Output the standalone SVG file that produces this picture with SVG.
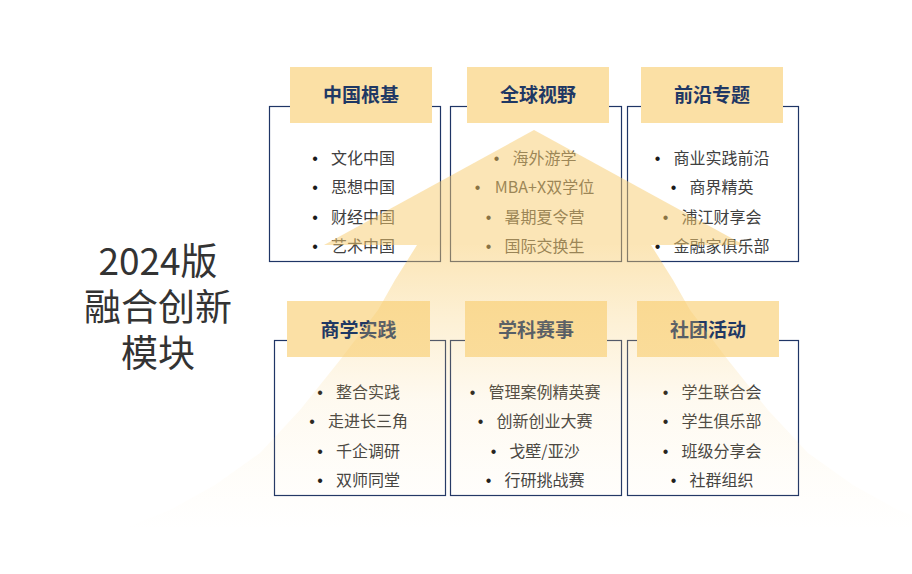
<svg xmlns="http://www.w3.org/2000/svg" width="912" height="574" viewBox="0 0 912 574">
<defs>
<style>
.box{fill:none;stroke:#1F3566;stroke-width:1.2}
.tb{fill:#FBE0A5}
.tt{font-family:"Noto Sans CJK SC","Noto Sans",sans-serif;font-size:19px;font-weight:bold;fill:#1F3864;text-anchor:middle}
.it{font-family:"Noto Sans CJK SC","Noto Sans",sans-serif;font-size:16px;fill:#404040;text-anchor:middle}
.bu{font-family:"Liberation Sans",sans-serif;font-size:16px;fill:#1a1a1a;text-anchor:middle}
.big{font-family:"Noto Sans CJK SC","Noto Sans",sans-serif;font-size:37px;fill:#333333;text-anchor:middle}
</style>
<linearGradient id="fade" gradientUnits="userSpaceOnUse" x1="0" y1="245" x2="0" y2="530">
<stop offset="0" stop-color="#F8CC6E" stop-opacity="0.5"/>
<stop offset="0.25" stop-color="#F8CC6E" stop-opacity="0.3"/>
<stop offset="0.55" stop-color="#F8CC6E" stop-opacity="0.1"/>
<stop offset="0.8" stop-color="#F8CC6E" stop-opacity="0.04"/>
<stop offset="1" stop-color="#F8CC6E" stop-opacity="0"/>
</linearGradient>
</defs>
<rect width="912" height="574" fill="#FFFFFF"/>
<g id="title">
<text class="big" x="158" y="274.5">2024版</text>
<text class="big" x="158" y="321">融合创新</text>
<text class="big" x="158" y="367">模块</text>
</g>
<g id="node-zhongguogenji">
<rect class="box" x="269.5" y="106.5" width="171" height="155"/>
<rect class="tb" x="290" y="67" width="142" height="56"/>
<text class="tt" x="361" y="102">中国根基</text>
<text class="bu" x="315" y="163.5">•</text><text class="it" x="363" y="163.5">文化中国</text>
<text class="bu" x="315" y="193">•</text><text class="it" x="363" y="193">思想中国</text>
<text class="bu" x="315" y="222.5">•</text><text class="it" x="363" y="222.5">财经中国</text>
<text class="bu" x="315" y="252">•</text><text class="it" x="363" y="252">艺术中国</text>
</g>
<g id="node-quanqiushiye">
<rect class="box" x="450.5" y="106.5" width="171" height="155"/>
<rect class="tb" x="467" y="67" width="142" height="56"/>
<text class="tt" x="538" y="102">全球视野</text>
<text class="bu" x="496.5" y="163.5">•</text><text class="it" x="544.5" y="163.5">海外游学</text>
<text class="bu" x="477.5" y="193">•</text><text class="it" x="544.5" y="193">MBA+X双学位</text>
<text class="bu" x="488.5" y="222.5">•</text><text class="it" x="544.5" y="222.5">暑期夏令营</text>
<text class="bu" x="488.5" y="252">•</text><text class="it" x="544.5" y="252">国际交换生</text>
</g>
<g id="node-qianyanzhuanti">
<rect class="box" x="627.5" y="106.5" width="171" height="155"/>
<rect class="tb" x="641" y="67" width="142" height="56"/>
<text class="tt" x="712" y="102">前沿专题</text>
<text class="bu" x="657.5" y="163.5">•</text><text class="it" x="721.5" y="163.5">商业实践前沿</text>
<text class="bu" x="673.5" y="193">•</text><text class="it" x="721.5" y="193">商界精英</text>
<text class="bu" x="665.5" y="222.5">•</text><text class="it" x="721.5" y="222.5">浦江财享会</text>
<text class="bu" x="657.5" y="252">•</text><text class="it" x="721.5" y="252">金融家俱乐部</text>
</g>
<g id="node-shangxueshijian">
<rect class="box" x="274.5" y="340.5" width="171" height="155"/>
<rect class="tb" x="287" y="301" width="143" height="56"/>
<text class="tt" x="358.5" y="337">商学实践</text>
<text class="bu" x="320" y="398">•</text><text class="it" x="368" y="398">整合实践</text>
<text class="bu" x="312" y="427">•</text><text class="it" x="368" y="427">走进长三角</text>
<text class="bu" x="320" y="456.5">•</text><text class="it" x="368" y="456.5">千企调研</text>
<text class="bu" x="320" y="486">•</text><text class="it" x="368" y="486">双师同堂</text>
</g>
<g id="node-xuekesaishi">
<rect class="box" x="450.5" y="340.5" width="171" height="155"/>
<rect class="tb" x="465" y="301" width="142" height="56"/>
<text class="tt" x="536" y="337">学科赛事</text>
<text class="bu" x="472.5" y="398">•</text><text class="it" x="544.5" y="398">管理案例精英赛</text>
<text class="bu" x="480.5" y="427">•</text><text class="it" x="544.5" y="427">创新创业大赛</text>
<text class="bu" x="493.5" y="456.5">•</text><text class="it" x="544.5" y="456.5">戈壁/亚沙</text>
<text class="bu" x="488.5" y="486">•</text><text class="it" x="544.5" y="486">行研挑战赛</text>
</g>
<g id="node-shetuanhuodong">
<rect class="box" x="627.5" y="340.5" width="171" height="155"/>
<rect class="tb" x="637" y="301" width="142" height="56"/>
<text class="tt" x="708" y="337">社团活动</text>
<text class="bu" x="665.5" y="398">•</text><text class="it" x="721.5" y="398">学生联合会</text>
<text class="bu" x="665.5" y="427">•</text><text class="it" x="721.5" y="427">学生俱乐部</text>
<text class="bu" x="665.5" y="456.5">•</text><text class="it" x="721.5" y="456.5">班级分享会</text>
<text class="bu" x="673.5" y="486">•</text><text class="it" x="721.5" y="486">社群组织</text>
</g>
<g id="connectors"></g>
<g id="pyramid">
<polygon points="534,130 324,245 744,245" fill="#F8CC6E" fill-opacity="0.5"/>
<polygon points="417,245 395,280 378,310 340,360 300,410 260,453 215,485 170,510 120,530 948,530 898,510 853,485 808,453 768,410 728,360 690,310 673,280 651,245" fill="url(#fade)"/>
</g>
</svg>
